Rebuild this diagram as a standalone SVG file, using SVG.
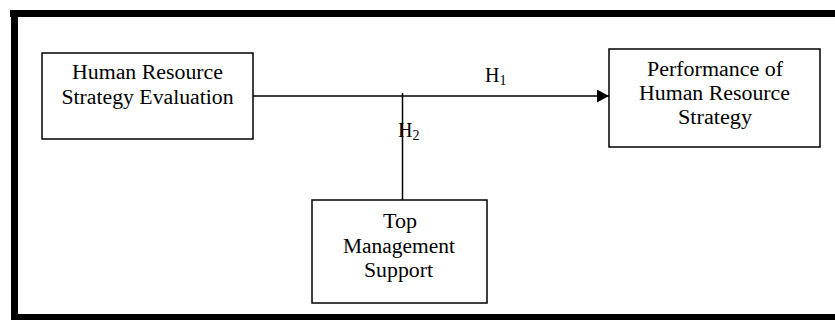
<svg xmlns="http://www.w3.org/2000/svg" width="835" height="320" viewBox="0 0 835 320">
<style>
.box{fill:#fff;stroke:#000;stroke-width:1.5}
.t{font-family:"Liberation Serif","Times New Roman",serif;font-size:20px;fill:#000;text-anchor:middle}
.h{font-family:"Liberation Serif","Times New Roman",serif;font-size:20px;fill:#000}
.sub{font-size:14px}
.ln{stroke:#000;stroke-width:1.5;fill:none}
</style>
<defs>
<marker id="arr" markerWidth="12" markerHeight="13" refX="12" refY="6.5" orient="auto" markerUnits="userSpaceOnUse">
<path d="M0,0 L12,6.5 L0,13 Z" fill="#000"/>
</marker>
</defs>
<rect width="835" height="320" fill="#fff"/>
<g id="frame" fill="#000">
<rect x="10" y="10" width="825" height="7"/>
<rect x="11" y="10" width="7" height="310"/>
<rect x="11" y="314" width="824" height="6"/>
</g>
<g id="connectors">
<line class="ln" x1="253" y1="96" x2="609" y2="96" marker-end="url(#arr)"/>
<line class="ln" x1="402.5" y1="93" x2="402.5" y2="200"/>
<text class="h" x="485" y="82">H<tspan class="sub" dy="3">1</tspan></text>
<text class="h" x="398" y="137">H<tspan class="sub" dy="3">2</tspan></text>
</g>
<g id="hrse">
<rect class="box" x="42" y="53" width="211" height="86"/>
<text class="t" x="147.5" y="79" textLength="151" lengthAdjust="spacingAndGlyphs">Human Resource</text>
<text class="t" x="147.5" y="104" textLength="172" lengthAdjust="spacingAndGlyphs">Strategy Evaluation</text>
</g>
<g id="perf">
<rect class="box" x="609" y="49" width="211" height="98"/>
<text class="t" x="715" y="76" textLength="136" lengthAdjust="spacingAndGlyphs">Performance of</text>
<text class="t" x="714.5" y="100" textLength="151" lengthAdjust="spacingAndGlyphs">Human Resource</text>
<text class="t" x="715" y="124" textLength="74" lengthAdjust="spacingAndGlyphs">Strategy</text>
</g>
<g id="tms">
<rect class="box" x="312" y="200" width="175" height="103"/>
<text class="t" x="400" y="228" textLength="34" lengthAdjust="spacingAndGlyphs">Top</text>
<text class="t" x="399" y="253" textLength="112" lengthAdjust="spacingAndGlyphs">Management</text>
<text class="t" x="398.5" y="277" textLength="69" lengthAdjust="spacingAndGlyphs">Support</text>
</g>
</svg>
